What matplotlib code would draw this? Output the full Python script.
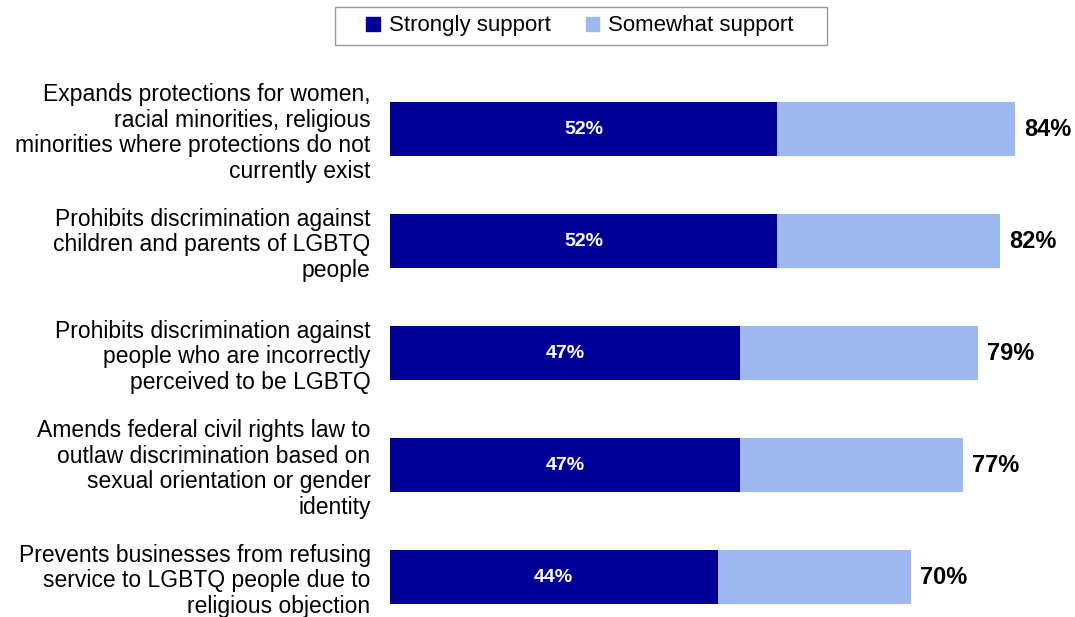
import matplotlib.pyplot as plt
from matplotlib.patches import Patch, Rectangle

plt.rcParams['font.family'] = ['Liberation Sans', 'DejaVu Sans']

items = ['Expands protections for women,\nracial minorities, religious\nminorities where protections do not\ncurrently exist',
         'Prohibits discrimination against\nchildren and parents of LGBTQ\npeople',
         'Prohibits discrimination against\npeople who are incorrectly\nperceived to be LGBTQ',
         'Amends federal civil rights law to\noutlaw discrimination based on\nsexual orientation or gender\nidentity',
         'Prevents businesses from refusing\nservice to LGBTQ people due to\nreligious objection']
strongly = [52, 52, 47, 47, 44]
total = [84, 82, 79, 77, 70]
somewhat = [t - s for t, s in zip(total, strongly)]

dark = '#000099'
light = '#9db8ee'

fig = plt.figure(figsize=(10.75, 6.17), dpi=100)
ax = fig.add_axes([390/1075, 0, 670/1075, 544/617])

ypos = list(range(len(items)))
ax.barh(ypos, strongly, height=0.48, color=dark)
ax.barh(ypos, somewhat, left=strongly, height=0.48, color=light)

for y, s, t in zip(ypos, strongly, total):
    ax.text(s/2, y, f'{s}%', color='white', fontsize=14, fontweight='bold', ha='center', va='center')
    ax.text(t + 1.2, y, f'{t}%', color='black', fontsize=17, fontweight='bold', ha='left', va='center')

ax.set_xlim(0, 90)
ax.set_ylim(4.357, -0.5)
ax.set_yticks(ypos)
ax.set_yticklabels(items, fontsize=16.5, linespacing=1.16)
ax.tick_params(axis='y', length=0, pad=14)
ax.set_xticks([])
for sp in ax.spines.values():
    sp.set_visible(False)

# legend frame drawn separately so it can be wider than the entries
fig.patches.append(Rectangle((335/1075, 1 - 45/617), 492/1075, 38/617, transform=fig.transFigure,
                             facecolor='white', edgecolor='#999999', linewidth=1, zorder=0))
handles = [Patch(color=dark, label='Strongly support'), Patch(color=light, label='Somewhat support')]
fig.legend(handles=handles, loc='center', bbox_to_anchor=(580/1075, 1 - 26/617), ncol=2,
           fontsize=16, frameon=False,
           handlelength=0.6, handleheight=0.6, handletextpad=0.4, columnspacing=1.6,
           borderpad=0.35)

fig.savefig('out.png', dpi=100)
